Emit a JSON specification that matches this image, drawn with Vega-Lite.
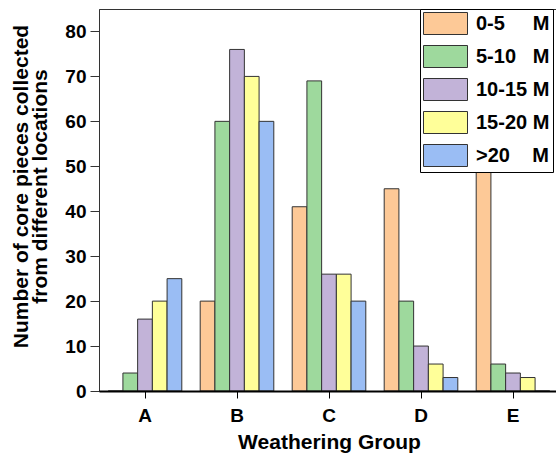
{
  "$schema": "https://vega.github.io/schema/vega-lite/v6.json",
  "autosize": {"type": "none"},
  "padding": {"left": 99, "top": 9, "right": 0, "bottom": 63},
  "width": 460,
  "height": 382,
  "background": "white",
  "config": {
    "font": "Liberation Sans",
    "view": {"stroke": "#333333", "strokeWidth": 1}
  },
  "data": {
    "values": [
      {"group": "A", "depth": "0-5\u00a0\u00a0\u00a0\u00a0\u00a0M", "count": 0},
      {"group": "A", "depth": "5-10\u00a0\u00a0\u00a0M", "count": 4},
      {"group": "A", "depth": "10-15\u00a0M", "count": 16},
      {"group": "A", "depth": "15-20\u00a0M", "count": 20},
      {"group": "A", "depth": ">20\u00a0\u00a0\u00a0\u00a0M", "count": 25},
      {"group": "B", "depth": "0-5\u00a0\u00a0\u00a0\u00a0\u00a0M", "count": 20},
      {"group": "B", "depth": "5-10\u00a0\u00a0\u00a0M", "count": 60},
      {"group": "B", "depth": "10-15\u00a0M", "count": 76},
      {"group": "B", "depth": "15-20\u00a0M", "count": 70},
      {"group": "B", "depth": ">20\u00a0\u00a0\u00a0\u00a0M", "count": 60},
      {"group": "C", "depth": "0-5\u00a0\u00a0\u00a0\u00a0\u00a0M", "count": 41},
      {"group": "C", "depth": "5-10\u00a0\u00a0\u00a0M", "count": 69},
      {"group": "C", "depth": "10-15\u00a0M", "count": 26},
      {"group": "C", "depth": "15-20\u00a0M", "count": 26},
      {"group": "C", "depth": ">20\u00a0\u00a0\u00a0\u00a0M", "count": 20},
      {"group": "D", "depth": "0-5\u00a0\u00a0\u00a0\u00a0\u00a0M", "count": 45},
      {"group": "D", "depth": "5-10\u00a0\u00a0\u00a0M", "count": 20},
      {"group": "D", "depth": "10-15\u00a0M", "count": 10},
      {"group": "D", "depth": "15-20\u00a0M", "count": 6},
      {"group": "D", "depth": ">20\u00a0\u00a0\u00a0\u00a0M", "count": 3},
      {"group": "E", "depth": "0-5\u00a0\u00a0\u00a0\u00a0\u00a0M", "count": 50},
      {"group": "E", "depth": "5-10\u00a0\u00a0\u00a0M", "count": 6},
      {"group": "E", "depth": "10-15\u00a0M", "count": 4},
      {"group": "E", "depth": "15-20\u00a0M", "count": 3},
      {"group": "E", "depth": ">20\u00a0\u00a0\u00a0\u00a0M", "count": 0}
    ]
  },
  "mark": {"type": "bar", "stroke": "#333333", "strokeWidth": 1},
  "encoding": {
    "x": {
      "field": "group",
      "type": "nominal",
      "scale": {"paddingInner": 0.2, "paddingOuter": 0.1},
      "axis": {
        "title": "Weathering Group",
        "titleFontSize": 21,
        "titleFontWeight": "bold",
        "titleColor": "#000000",
        "titlePadding": 6,
        "labelAngle": 0,
        "labelFontSize": 19,
        "labelFontWeight": "bold",
        "labelColor": "#000000",
        "labelPadding": 8,
        "domainColor": "#000000",
        "domainWidth": 2,
        "tickColor": "#000000",
        "tickSize": 7,
        "tickWidth": 1,
        "zindex": 1
      }
    },
    "xOffset": {
      "field": "depth",
      "type": "nominal",
      "sort": null,
      "scale": {"paddingInner": 0, "paddingOuter": 0}
    },
    "y": {
      "field": "count",
      "type": "quantitative",
      "scale": {"domain": [0, 85], "nice": false},
      "axis": {
        "title": ["Number of core pieces collected", "from different locations"],
        "titleFontSize": 21,
        "titleFontWeight": "bold",
        "titleColor": "#000000",
        "titleLineHeight": 19,
        "titlePadding": 14,
        "titleY": 177,
        "values": [0, 10, 20, 30, 40, 50, 60, 70, 80],
        "grid": false,
        "labelFontSize": 19,
        "labelFontWeight": "bold",
        "labelColor": "#000000",
        "labelPadding": 4,
        "domainColor": "#333333",
        "tickColor": "#333333",
        "tickSize": 9
      }
    },
    "color": {
      "field": "depth",
      "type": "nominal",
      "sort": null,
      "scale": {"range": ["#FDC997", "#9ED99D", "#C2B3D8", "#FFFF99", "#9ABDF4"]},
      "legend": {
        "title": null,
        "orient": "none",
        "legendX": 321,
        "legendY": 0,
        "fillColor": "white",
        "strokeColor": "#000000",
        "padding": 3,
        "symbolType": "M-1,-1H3V1H-1Z",
        "symbolSize": 484,
        "symbolStrokeColor": "#333333",
        "symbolStrokeWidth": 1,
        "symbolOpacity": 1,
        "labelFontSize": 20,
        "labelFontWeight": "bold",
        "labelColor": "#000000",
        "labelOffset": 30,
        "rowPadding": 6
      }
    }
  }
}
